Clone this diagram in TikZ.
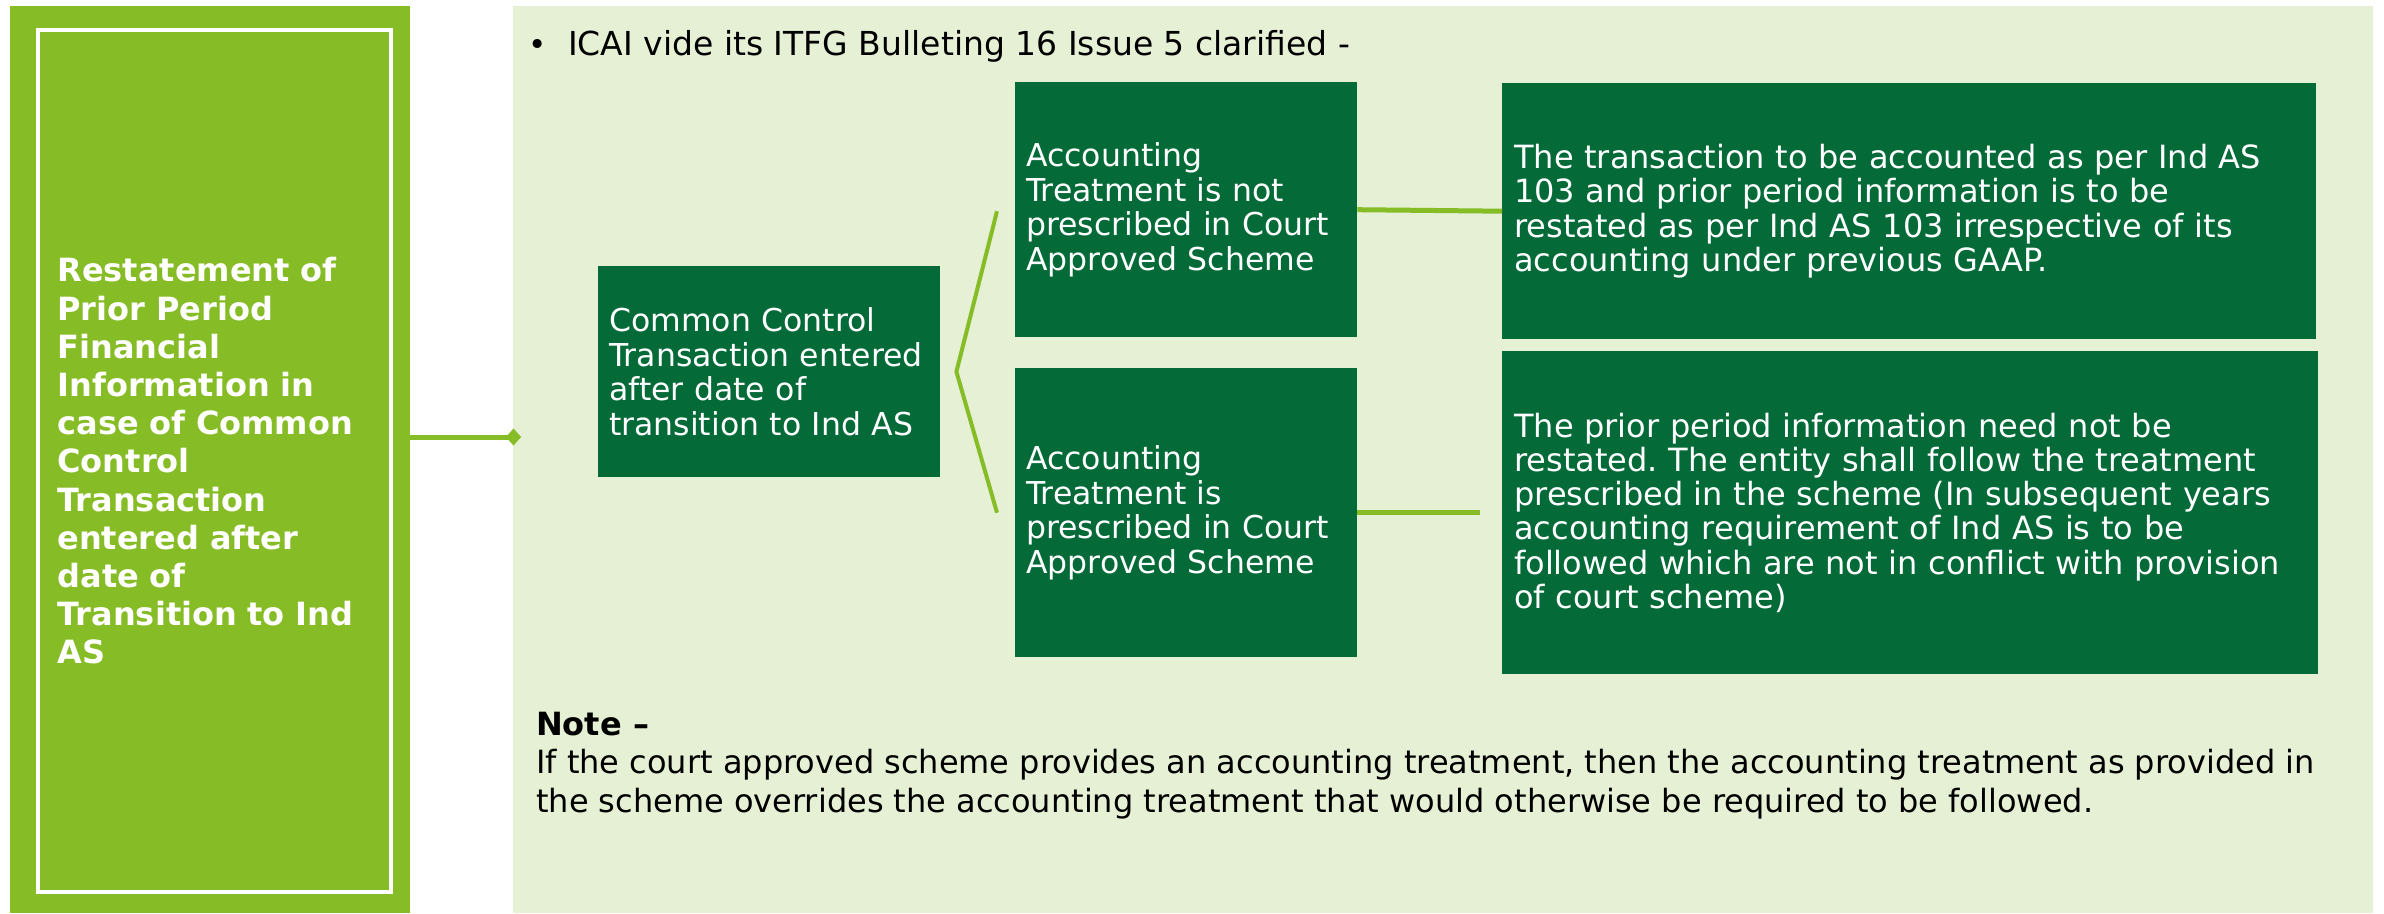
\documentclass[tikz,border=0pt]{standalone}
\usepackage{fontspec}
\setmainfont{DejaVu Sans}
\usetikzlibrary{arrows.meta,calc}
\definecolor{lime}{HTML}{86BC25}
\definecolor{dgreen}{HTML}{046A38}
\definecolor{pale}{HTML}{E5F0D4}
\frenchspacing
\begin{document}
\begin{tikzpicture}[x=1pt,y=-1pt,
  dbox/.style={fill=dgreen, text=white, inner ysep=0pt, align=left, anchor=north west},
  smallbox/.style={dbox, inner xsep=11pt, minimum width=342pt, text width=320pt,
    font=\fontsize{31.5}{34.5}\selectfont},
  widebox/.style={dbox, inner xsep=12pt, font=\fontsize{32}{34.3}\selectfont},
  conn/.style={draw=lime, line width=5pt},
  brk/.style={draw=lime, line width=4pt, line join=miter},
  plaintext/.style={anchor=base west, inner sep=0pt, align=left, text=black}
]
\useasboundingbox (0,0) rectangle (2384,913);
% left panel
\node[fill=lime, minimum width=400pt, minimum height=907pt, inner sep=0pt, anchor=north west] (lp) at (10,6) {};
\node[draw=white, line width=4pt, minimum width=353pt, minimum height=862pt, text width=314pt,
  inner xsep=19.5pt, inner ysep=0pt, align=left, text=white,
  font=\bfseries\fontsize{32}{38.2}\selectfont, anchor=north west] (title) at (36,28)
  {Restatement of\\Prior Period\\Financial\\Information in\\case of Common\\Control\\Transaction\\entered after\\date of\\Transition to Ind\\AS};
% right panel
\node[fill=pale, minimum width=1860pt, minimum height=907pt, inner sep=0pt, anchor=north west] (rp) at (513,6) {};
% bullet line
\node[plaintext, font=\fontsize{33}{36}\selectfont] (bul) at (528,55)
  {\makebox[40pt][l]{\fontsize{31}{34}\selectfont•}ICAI vide its ITFG Bulleting 16 Issue 5 clarified -};
% boxes
\node[smallbox, minimum height=211pt] (cc) at (598,266)
  {Common Control\\Transaction entered\\after date of\\transition to Ind AS};
\node[smallbox, minimum height=255pt] (tm) at (1015,82)
  {Accounting\\Treatment is not\\prescribed in Court\\Approved Scheme};
\node[smallbox, minimum height=289pt] (bm) at (1015,368)
  {Accounting\\Treatment is\\prescribed in Court\\Approved Scheme};
\node[widebox, minimum width=814pt, minimum height=256pt, text width=790pt] (tr) at (1502,83)
  {The transaction to be accounted as per Ind AS\\103 and prior period information is to be\\restated as per Ind AS 103 irrespective of its\\accounting under previous GAAP.};
\node[widebox, minimum width=816pt, minimum height=323pt, text width=792pt] (br) at (1502,351)
  {The prior period information need not be\\restated. The entity shall follow the treatment\\prescribed in the scheme (In subsequent years\\accounting requirement of Ind AS is to be\\followed which are not in conflict with provision\\of court scheme)};
% note (base anchor = last line baseline)
\node[plaintext, font=\fontsize{32}{38.5}\selectfont] (note) at (536,812)
  {\textbf{Note –}\\If the court approved scheme provides an accounting treatment, then the accounting treatment as provided in\\the scheme overrides the accounting treatment that would otherwise be required to be followed.};
% connectors
\coordinate (dm) at (521,437);
\draw[conn, -{Diamond[length=15pt,width=17pt,line width=0.5pt]}] (title.east |- dm) -- (dm);
\draw[brk] ($(tm.west)+(-18,1.5)$) -- ([xshift=16pt]cc.east) -- ($(bm.west)+(-18,0)$);
\draw[conn] (tm.east) -- (tr.west);
\draw[conn] (bm.east) -- ([xshift=-22pt]br.west);
\end{tikzpicture}
\end{document}
